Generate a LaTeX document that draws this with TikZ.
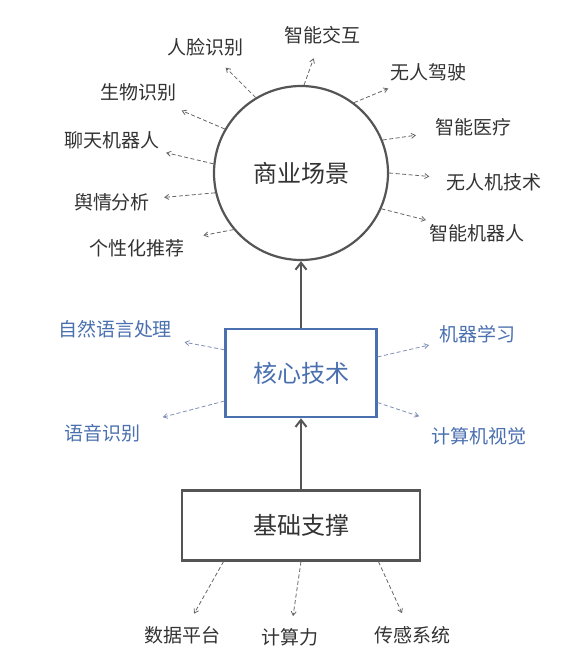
\documentclass[tikz,border=0pt]{standalone}
\usepackage{fontspec}
\setmainfont{Noto Sans CJK SC}
\usetikzlibrary{positioning, arrows.meta}
\usepackage{xcolor}
\definecolor{inkgray}{HTML}{555555}
\definecolor{textgray}{HTML}{333333}
\definecolor{coreblue}{HTML}{4A70B0}
\definecolor{dashgray}{HTML}{666666}
\definecolor{dashblue}{HTML}{7F8FB5}
\tikzset{
  bigtext/.style={font=\fontsize{24}{24}\selectfont},
  smalltext/.style={font=\fontsize{19}{19}\selectfont},
  scenenode/.style={draw=inkgray, circle, line width=2.2pt, minimum size=174pt,
                    inner sep=0pt, text=textgray, bigtext},
  corenode/.style={draw=coreblue, rectangle, line width=2.2pt, minimum width=151pt,
                   minimum height=88pt, inner sep=0pt, text=coreblue, bigtext},
  basenode/.style={draw=inkgray, rectangle, line width=2.2pt, minimum width=238pt,
                   minimum height=70pt, inner sep=0pt, text=textgray, bigtext},
  lab/.style={inner sep=1pt, text=textgray, smalltext},
  bluelab/.style={lab, text=coreblue},
  mainarrow/.style={-{Straight Barb[length=7pt, width=11pt]}, draw=inkgray, line width=2pt},
  dasharrow/.style={-{Straight Barb[length=4pt, width=5pt]}, draw=dashgray,
                    line width=0.8pt, dash pattern=on 4pt off 2.5pt},
  bluearrow/.style={dasharrow, draw=dashblue},
}

\begin{document}
\begin{tikzpicture}[x=1pt, y=1pt]

\path[use as bounding box, fill=white] (0,0) rectangle (567,-670);

%% ====================  MAIN BLOCKS  ====================

\node[scenenode] (scene) at (301,-173) {商业场景};
\node[corenode, below=67pt of scene] (core) {核心技术};
\node[basenode, below=71pt of core] (base) {基础支撑};

%% ====================  SCENE LABELS  ====================

\node[lab] (l_interact)  at (322,-35)  {智能交互};
\node[lab] (l_face)      at (205,-47)  {人脸识别};
\node[lab] (l_drive)     at (428,-72)  {无人驾驶};
\node[lab] (l_bio)       at (138,-92)  {生物识别};
\node[lab] (l_medical)   at (473,-127) {智能医疗};
\node[lab] (l_chat)      at (112,-140) {聊天机器人};
\node[lab] (l_drone)     at (494,-182) {无人机技术};
\node[lab] (l_opinion)   at (112,-202) {舆情分析};
\node[lab] (l_robot)     at (477,-233) {智能机器人};
\node[lab] (l_recommend) at (137,-248) {个性化推荐};

%% ====================  CORE LABELS  ====================

\node[bluelab] (t_nlp)    at (115,-329) {自然语言处理};
\node[bluelab] (t_ml)     at (477,-334) {机器学习};
\node[bluelab] (t_speech) at (102,-433) {语音识别};
\node[bluelab] (t_cv)     at (479,-436) {计算机视觉};

%% ====================  BASE LABELS  ====================

\node[lab] (b_data)    at (182,-635) {数据平台};
\node[lab] (b_compute) at (290,-637) {计算力};
\node[lab] (b_sensor)  at (412,-635) {传感系统};

%% ====================  ARROWS  ====================

%% Upward flow
\draw[mainarrow] (core.north) -- (scene.south);
\draw[mainarrow] (base.north) -- (core.south);

%% Scene fan-out
\draw[dasharrow, shorten >=14pt] (scene.88)  -- (l_interact);
\draw[dasharrow, shorten >=15pt] (scene.121) -- (l_face);
\draw[dasharrow, shorten >=17pt] (scene.53)  -- (l_drive);
\draw[dasharrow, shorten >=22pt] (scene.150) -- (l_bio);
\draw[dasharrow, shorten >=18pt] (scene.22)  -- (l_medical);
\draw[dasharrow, shorten >=12pt] (scene.174) -- (l_chat);
\draw[dasharrow, shorten >=16pt] (scene.0)   -- (l_drone);
\draw[dasharrow, shorten >=13pt] (scene.193) -- (l_opinion);
\draw[dasharrow, shorten >=12pt] (scene.336) -- (l_robot);
\draw[dasharrow, shorten >=18pt] (scene.220) -- (l_recommend);

%% Core fan-out
\draw[bluearrow, shorten >=17pt] (core.163) -- (t_nlp);
\draw[bluearrow, shorten >=23pt] (core.200) -- (t_speech);
\draw[bluearrow, shorten >=9pt]  (core.12)  -- (t_ml);
\draw[bluearrow, shorten >=31pt] (core.339) -- (t_cv);

%% Base fan-out
\draw[dasharrow, shorten >=13pt] (base.205) -- (b_data);
\draw[dasharrow, shorten >=11pt] (base.270) -- (b_compute);
\draw[dasharrow, shorten >=13pt] (base.335) -- (b_sensor);

\end{tikzpicture}
\end{document}
